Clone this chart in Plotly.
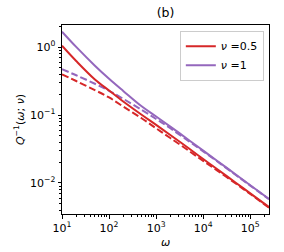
import plotly.graph_objects as go

# angular frequency samples
omega = [10, 20, 50, 100, 200, 500, 1e3, 2e3, 5e3, 1e4, 2e4, 5e4, 1e5, 2.5e5]

# nu = 0.5 (red)
q_red_solid = [1.045, 0.623, 0.333, 0.229, 0.158, 0.100, 0.0715, 0.0508, 0.0321,
               0.0225, 0.0159, 0.0100, 0.00703, 0.00442]
q_red_dash = [0.397, 0.316, 0.232, 0.181, 0.133, 0.0889, 0.0637, 0.0459, 0.0296,
              0.0211, 0.0152, 0.00973, 0.00689, 0.00434]

# nu = 1 (purple)
q_pur_solid = [1.679, 1.003, 0.531, 0.341, 0.226, 0.133, 0.0950, 0.0675, 0.0426,
               0.0299, 0.0211, 0.0132, 0.00925, 0.00582]
q_pur_dash = [0.470, 0.384, 0.288, 0.227, 0.173, 0.118, 0.0874, 0.0638, 0.0409,
              0.0292, 0.0207, 0.0130, 0.00916, 0.00576]

legend_labels = ["<i>ν</i> =0.5", "<i>ν</i> =1"]
x_tick_vals = [1e1, 1e2, 1e3, 1e4, 1e5]
x_tick_text = ["10<sup>1</sup>", "10<sup>2</sup>", "10<sup>3</sup>", "10<sup>4</sup>", "10<sup>5</sup>"]
y_tick_vals = [1e-2, 1e-1, 1e0]
y_tick_text = ["10<sup>−2</sup>", "10<sup>−1</sup>", "10<sup>0</sup>"]

RED = "#d62728"
PURPLE = "#9467bd"

fig = go.Figure()
fig.add_trace(go.Scatter(x=omega, y=q_red_dash, mode="lines", showlegend=False,
                         line=dict(color=RED, width=2, dash="7px,3px", shape="spline")))
fig.add_trace(go.Scatter(x=omega, y=q_pur_dash, mode="lines", showlegend=False,
                         line=dict(color=PURPLE, width=2, dash="7px,3px", shape="spline")))
fig.add_trace(go.Scatter(x=omega, y=q_red_solid, mode="lines", name=legend_labels[0],
                         line=dict(color=RED, width=2, shape="spline")))
fig.add_trace(go.Scatter(x=omega, y=q_pur_solid, mode="lines", name=legend_labels[1],
                         line=dict(color=PURPLE, width=2, shape="spline")))

minor_x = [m * 10 ** e for e in range(1, 6) for m in range(2, 10) if m * 10 ** e <= 2.5e5]
minor_y = [m * 10 ** e for e in range(-3, 1) for m in range(2, 10) if 0.0035 <= m * 10 ** e <= 2.1]

font = "DejaVu Sans, Liberation Sans, sans-serif"
fig.update_layout(
    width=284, height=252,
    margin=dict(l=62, r=15, t=25, b=38),
    paper_bgcolor="white", plot_bgcolor="white",
    font=dict(family=font, size=11, color="black"),
    title=dict(text="(b)", x=0.583, xanchor="center", y=0.948, yanchor="middle",
               font=dict(size=12.5, family=font)),
    xaxis=dict(type="log", range=[1, 5.398], showgrid=False, zeroline=False,
               showline=True, linecolor="black", linewidth=1, mirror=True,
               ticks="outside", ticklen=3.5, tickwidth=1, tickcolor="black",
               tickmode="array", tickvals=x_tick_vals, ticktext=x_tick_text,
               tickfont=dict(size=11),
               minor=dict(tickmode="array", tickvals=minor_x, ticks="outside",
                          ticklen=2, tickwidth=0.6, tickcolor="black", showgrid=False)),
    yaxis=dict(type="log", range=[-2.456, 0.3235], showgrid=False, zeroline=False,
               showline=True, linecolor="black", linewidth=1, mirror=True,
               ticks="outside", ticklen=3.5, tickwidth=1, tickcolor="black",
               tickmode="array", tickvals=y_tick_vals, ticktext=y_tick_text,
               tickfont=dict(size=11),
               minor=dict(tickmode="array", tickvals=minor_y, ticks="outside",
                          ticklen=2, tickwidth=0.6, tickcolor="black", showgrid=False),
               title=dict(text="<i>Q</i><sup>−1</sup>(<i>ω</i>; <i>ν</i>)", standoff=3,
                          font=dict(size=11))),
    legend=dict(x=0.975, y=0.97, xanchor="right", yanchor="top",
                bgcolor="rgba(255,255,255,0.8)", bordercolor="#cccccc", borderwidth=1,
                font=dict(size=11), tracegroupgap=0, itemwidth=30),
    annotations=[dict(text="<i>ω</i>", xref="paper", yref="paper", x=0.5, y=-0.153,
                      xanchor="center", yanchor="middle", showarrow=False,
                      font=dict(size=11))],
)

fig.write_html("out.html", config={"displayModeBar": False},
               post_script="document.body.style.margin='0';document.body.style.padding='0';")
